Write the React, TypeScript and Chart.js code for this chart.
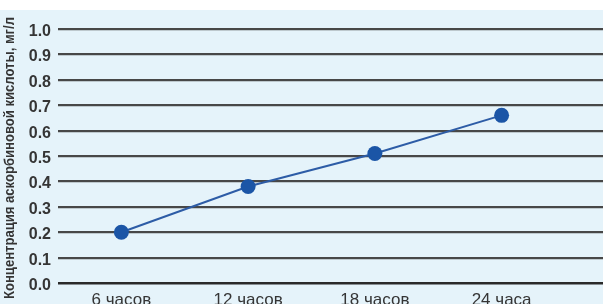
import React, { useEffect, useRef } from "react";
import { Chart, registerables } from "chart.js";

Chart.register(...registerables);

const categories = ["6 часов", "12 часов", "18 часов", "24 часа"];
const hours = [6, 12, 18, 24];
const concentration = [0.2, 0.38, 0.51, 0.66];
const yTitle = "Концентрация аскорбиновой кислоты, мг/л";

const FONT = "'Liberation Sans', Arial, sans-serif";

const bgPlugin = {
  id: "bg",
  beforeDraw(chart: any) {
    const { ctx, width, height } = chart;
    ctx.save();
    ctx.fillStyle = "#ffffff";
    ctx.fillRect(0, 0, width, height);
    ctx.fillStyle = "#e5f3fa";
    ctx.fillRect(0, 10, width, height - 10);
    ctx.restore();
  },
};

// Condensed vertical axis title (real text, squeezed to the reference's narrow typeface)
const yTitlePlugin = {
  id: "yTitleCondensed",
  afterDraw(chart: any) {
    const { ctx, chartArea } = chart;
    const cy = (chartArea.top + chartArea.bottom) / 2 + 2;
    ctx.save();
    ctx.font = `bold 14px ${FONT}`;
    const w = ctx.measureText(yTitle).width;
    const target = 282;
    ctx.translate(10.5, cy);
    ctx.rotate(-Math.PI / 2);
    ctx.scale(target / w, 1);
    ctx.fillStyle = "#353535";
    ctx.textAlign = "center";
    ctx.textBaseline = "middle";
    ctx.fillText(yTitle, 0, 0);
    ctx.restore();
  },
};

export default function App() {
  const ref = useRef<HTMLCanvasElement | null>(null);
  useEffect(() => {
    document.body.style.margin = "0";
    const canvas = ref.current!;
    const chart = new Chart(canvas, {
      type: "line",
      data: {
        datasets: [
          {
            data: hours.map((h, i) => ({ x: h, y: concentration[i] })),
            borderColor: "#2d5ca6",
            borderWidth: 2,
            pointRadius: 7.5,
            pointBackgroundColor: "#1b55a6",
            pointBorderColor: "#1b55a6",
            pointBorderWidth: 0,
            tension: 0,
          },
        ],
      },
      options: {
        animation: false,
        responsive: false,
        maintainAspectRatio: false,
        layout: { autoPadding: false, padding: { top: 29, right: 0, bottom: 0, left: 0 } },
        plugins: { legend: { display: false }, tooltip: { enabled: false } },
        scales: {
          x: {
            type: "linear",
            min: 3,
            max: 28.8,
            grid: { display: false, drawTicks: false },
            border: { display: false },
            afterBuildTicks: (axis: any) => {
              axis.ticks = hours.map((v) => ({ value: v }));
            },
            afterFit: (axis: any) => {
              axis.height = 21;
              axis.paddingLeft = 0;
              axis.paddingRight = 0;
            },
            ticks: {
              padding: 7,
              maxRotation: 0,
              autoSkip: false,
              color: "#353535",
              font: { family: FONT, size: 17 },
              callback: (v: any) => categories[hours.indexOf(Number(v))] ?? "",
            },
          },
          y: {
            min: 0,
            max: 1,
            grid: {
              color: (c: any) => (c.tick && c.tick.value === 0 ? "#2a2a2a" : "#474747"),
              lineWidth: (c: any) => (c.tick && c.tick.value === 0 ? 2.5 : 2.2),
              drawTicks: false,
            },
            border: { display: false },
            afterFit: (axis: any) => {
              axis.width = 58;
            },
            ticks: {
              stepSize: 0.1,
              padding: 7,
              labelOffset: 2.5,
              color: "#353535",
              font: { family: FONT, size: 16, weight: "bold" },
              callback: (v: any) => Number(v).toFixed(1),
            },
            title: { display: false },
          },
        },
      },
      plugins: [bgPlugin, yTitlePlugin],
    });
    return () => chart.destroy();
  }, []);
  return (
    <div style={{ width: 603, height: 304, overflow: "hidden" }}>
      <canvas ref={ref} width={603} height={304} style={{ display: "block", width: 603, height: 304 }} />
    </div>
  );
}
